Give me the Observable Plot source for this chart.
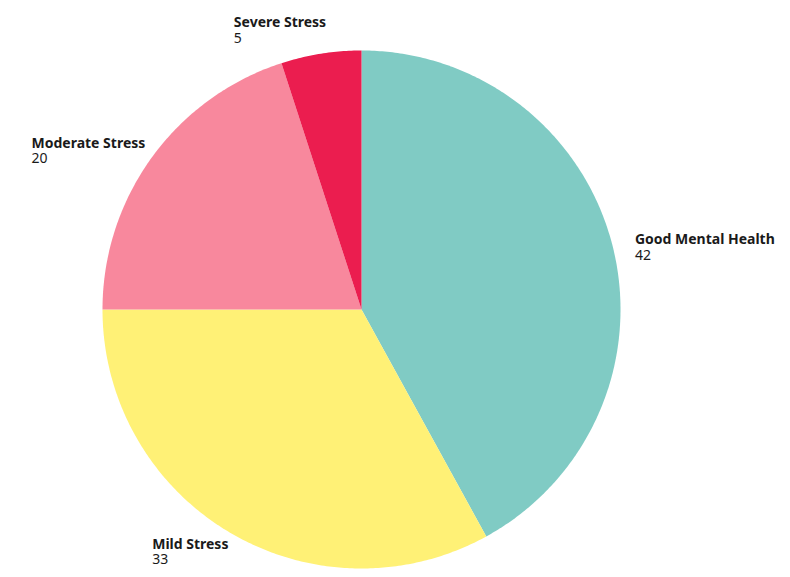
<!DOCTYPE html>
<html>
<head>
<meta charset="utf-8">
<script src="https://cdn.jsdelivr.net/npm/d3@7"></script>
<script src="https://cdn.jsdelivr.net/npm/@observablehq/plot@0.6"></script>
<style>
  html, body { margin: 0; padding: 0; background: #fff; }
  #chart svg { display: block; }
</style>
</head>
<body>
<div id="chart"></div>
<script>
const categories = ["Good Mental Health", "Mild Stress", "Moderate Stress", "Severe Stress"];
const values = [42, 33, 20, 5];
const colors = ["#80cbc4", "#fff176", "#f8889d", "#eb1d4f"];

const W = 790, H = 577;
const CX = 361, CY = 309, RPX = 259;   // pie centre and radius in pixels
const FS = 14;
const FONT = FS + "px 'Noto Sans'";
const FONT_B = "bold " + FS + "px 'Noto Sans'";

const total = d3.sum(values);
const slices = [];
const labels = [];
const canvas = document.createElement("canvas");
const ctx = canvas.getContext("2d");
let acc = 0;
categories.forEach((c, i) => {
  const a0 = acc / total * 2 * Math.PI;
  acc += values[i];
  const a1 = acc / total * 2 * Math.PI;
  const n = Math.max(2, Math.ceil((a1 - a0) / 0.01));
  slices.push({cat: c, x: 0, y: 0});
  for (let k = 0; k <= n; k++) {
    const a = a0 + (a1 - a0) * k / n;
    slices.push({cat: c, x: Math.sin(a), y: Math.cos(a)});
  }
  slices.push({cat: c, x: 0, y: 0});
  const am = (a0 + a1) / 2;
  const s = Math.sin(am), co = Math.cos(am);
  const lr = 1.07;
  ctx.font = FONT_B;
  const wb = ctx.measureText(c).width;
  ctx.font = FONT;
  const wv = ctx.measureText(String(values[i])).width;
  const bw = Math.max(wb, wv);
  const pxOff = s >= 0 ? 5 : 8 - bw;              // pixels
  const pyOff = co > 0 ? 5 - 13 * co * co * co : 5 - 4 * Math.abs(co);
  labels.push({
    cat: c, value: values[i],
    x: s * lr + pxOff / RPX,
    y: co * lr - pyOff / RPX
  });
});

const chart = Plot.plot({
  width: W,
  height: H,
  margin: 0,
  style: {fontFamily: "'Noto Sans', sans-serif", background: "#fff"},
  x: {domain: [-CX / RPX, (W - CX) / RPX], axis: null},
  y: {domain: [-(H - CY) / RPX, CY / RPX], axis: null},
  color: {domain: categories, range: colors},
  marks: [
    Plot.line(slices, {x: "x", y: "y", z: "cat", fill: "cat", stroke: "none", curve: "linear"}),
    Plot.text(labels, {x: "x", y: "y", text: "cat", textAnchor: "start", lineAnchor: "bottom", fontWeight: "bold", fontSize: FS, fill: "#1a1a1a", dy: -1}),
    Plot.text(labels, {x: "x", y: "y", text: d => String(d.value), textAnchor: "start", lineAnchor: "bottom", fontSize: FS, fill: "#1a1a1a", dy: 14.5})
  ]
});
document.getElementById("chart").append(chart);
</script>
</body>
</html>
